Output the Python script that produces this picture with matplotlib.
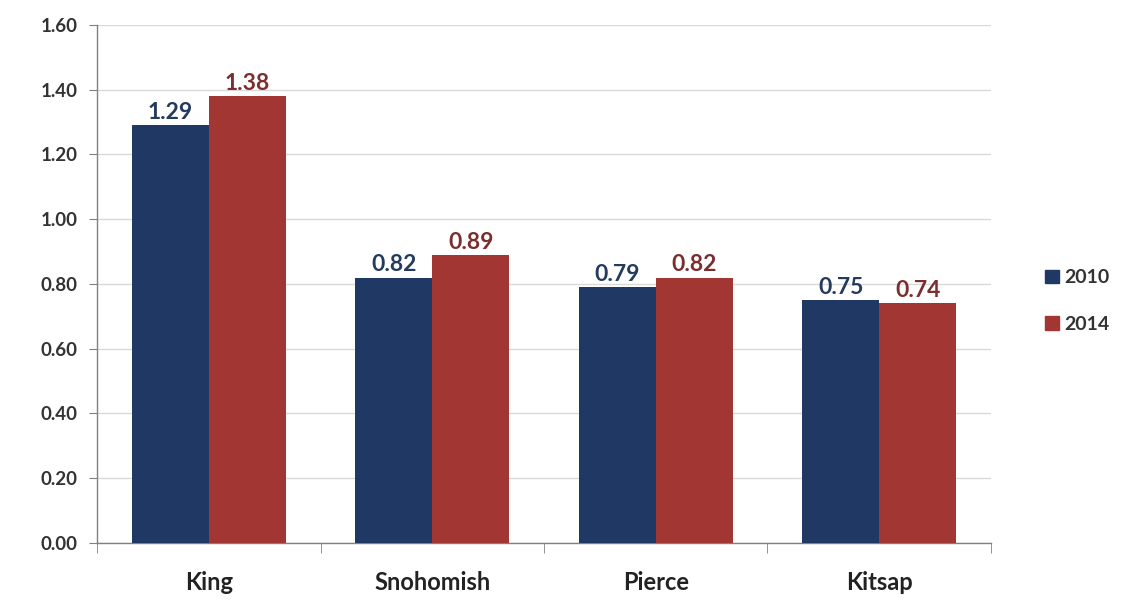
import matplotlib
matplotlib.use("Agg")
import matplotlib.pyplot as plt
import numpy as np
from matplotlib.patches import Patch

categories = ["King", "Snohomish", "Pierce", "Kitsap"]
series_names = ["2010", "2014"]
values_2010 = [1.29, 0.82, 0.79, 0.75]
values_2014 = [1.38, 0.89, 0.82, 0.74]
y_ticks = [0.0, 0.2, 0.4, 0.6, 0.8, 1.0, 1.2, 1.4, 1.6]

bar_colors = ["#1F3864", "#A23633"]
label_colors = ["#243B5E", "#7A2E2E"]

plt.rcParams['font.family'] = ['Lato', 'DejaVu Sans']

fig = plt.figure(figsize=(11.23, 6.02), dpi=100)
ax = fig.add_axes([0.0864, 0.098, 0.796, 0.8605])

x = np.arange(len(categories))
w = 0.345
b1 = ax.bar(x - w/2, values_2010, w, color=bar_colors[0], zorder=3)
b2 = ax.bar(x + w/2, values_2014, w, color=bar_colors[1], zorder=3)

for bars, vals, c in [(b1, values_2010, label_colors[0]), (b2, values_2014, label_colors[1])]:
    for r, v in zip(bars, vals):
        ax.annotate(f"{v:.2f}", (r.get_x() + r.get_width()/2, v), xytext=(0, 1.5),
                    textcoords="offset points", ha="center", va="bottom",
                    fontsize=16.5, fontweight="bold", color=c, zorder=4)

ax.set_xlim(-0.5, len(categories) - 0.5)
ax.set_ylim(0, 1.6)
ax.set_yticks(y_ticks)
ax.set_yticklabels([f"{t:.2f}" for t in y_ticks], fontsize=13.5, fontweight="bold", color="#333333")
ax.yaxis.grid(True, color="#D9D9D9", linewidth=1, zorder=0)
ax.set_axisbelow(True)

ax.set_xticks(x)
ax.set_xticklabels(categories, fontsize=17, fontweight="bold", color="#222222")
ax.tick_params(axis="x", length=0, pad=20)
ax.set_xticks(np.arange(-0.5, len(categories)), minor=True)
ax.tick_params(axis="x", which="minor", length=7, color="#808080")
ax.tick_params(axis="y", length=6, color="#808080", pad=8)

for s in ["top", "right"]:
    ax.spines[s].set_visible(False)
for s in ["left", "bottom"]:
    ax.spines[s].set_color("#808080")
    ax.spines[s].set_linewidth(1)

handles = [Patch(color=bar_colors[0]), Patch(color=bar_colors[1])]
leg = fig.legend(handles, series_names, loc="center left", bbox_to_anchor=(0.915, 0.50),
                 frameon=False, handlelength=0.7, handleheight=0.7, handletextpad=0.3,
                 labelspacing=1.5, prop={"size": 14, "weight": "bold"})
for t in leg.get_texts():
    t.set_color("#333333")

fig.savefig("out.png", dpi=100)
